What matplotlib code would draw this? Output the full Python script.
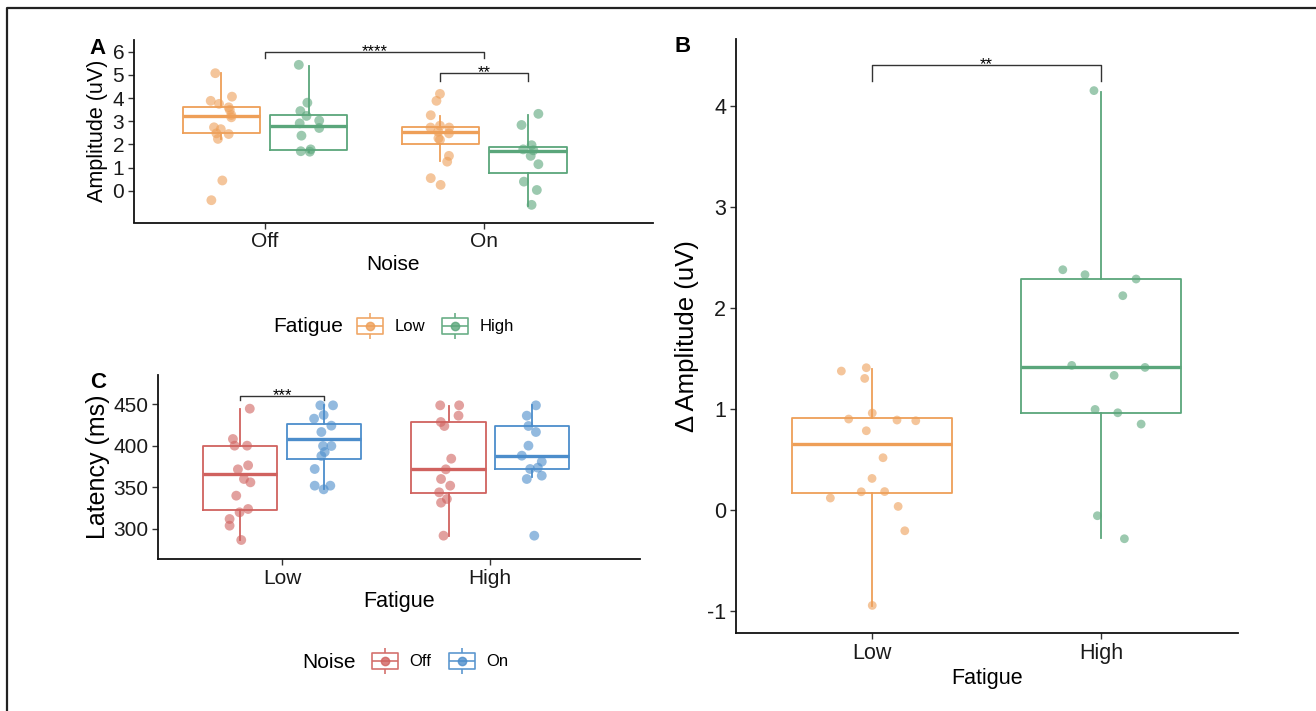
import matplotlib.pyplot as plt
import numpy as np
from matplotlib.path import Path
from matplotlib.lines import Line2D
from matplotlib.legend_handler import HandlerTuple

plt.rcParams['font.family'] = ['Liberation Sans', 'DejaVu Sans']
plt.rcParams['axes.unicode_minus'] = False

ORANGE = '#EE9F58'
GREEN = '#5AA67B'
RED = '#D0625F'
BLUE = '#4C8DCB'

# ---- panel A: amplitude by noise x fatigue ----
noise_labels = ['Off', 'On']
# box stats, order: Off-Low, Off-High, On-Low, On-High
a_q1 = [2.48, 1.77, 2.02, 0.76]
a_med = [3.23, 2.81, 2.53, 1.74]
a_q3 = [3.63, 3.27, 2.74, 1.88]
a_lo = [2.24, 1.69, 1.29, -0.65]
a_hi = [5.07, 5.40, 3.24, 3.27]

a_off_low = [5.07, 3.88, 3.75, 4.06, 3.60, 3.49, 3.27, 3.17, 2.74, 2.66, 2.48, 2.45, 2.24, 0.45, -0.40]
a_off_low_dx = [-0.027, -0.048, -0.010, 0.049, 0.034, 0.039, 0.046, 0.046, -0.033, -0.002, -0.022, 0.034, -0.015, 0.005, -0.045]
a_off_high = [5.43, 3.80, 3.44, 3.23, 3.03, 2.91, 2.71, 2.38, 1.71, 1.69, 1.79]
a_off_high_dx = [-0.046, -0.007, -0.039, -0.011, 0.047, -0.042, 0.047, -0.034, -0.037, 0.004, 0.008]
a_on_low = [4.18, 3.88, 3.26, 2.73, 2.81, 2.73, 2.55, 2.48, 2.27, 2.20, 1.51, 1.26, 0.55, 0.26]
a_on_low_dx = [-0.002, -0.018, -0.044, -0.045, -0.002, 0.040, -0.010, 0.039, -0.009, -0.002, 0.039, 0.031, -0.044, 0.001]
a_on_high = [3.32, 2.84, 1.97, 1.79, 1.75, 1.51, 1.15, 0.40, 0.04, -0.60]
a_on_high_dx = [0.047, -0.030, 0.016, -0.022, 0.024, 0.012, 0.047, -0.019, 0.040, 0.016]

# ---- panel B: delta amplitude by fatigue ----
fatigue_labels = ['Low', 'High']
b_q1 = [0.164, 0.96]
b_med = [0.646, 1.409]
b_q3 = [0.91, 2.284]
b_lo = [-0.948, -0.284]
b_hi = [1.396, 4.14]
b_low = [1.373, 1.406, 1.30, 0.957, 0.898, 0.888, 0.881, 0.782, 0.515, 0.31, 0.178, 0.18, 0.116, 0.033, -0.208, -0.947]
b_low_dx = [-0.134, -0.025, -0.032, 0.001, -0.102, 0.109, 0.191, -0.025, 0.048, 0.0, -0.047, 0.055, -0.182, 0.114, 0.143, 0.001]
b_high = [4.149, 2.376, 2.327, 2.284, 2.119, 1.429, 1.409, 1.33, 0.993, 0.96, 0.848, -0.059, -0.287]
b_high_dx = [-0.031, -0.167, -0.070, 0.153, 0.095, -0.128, 0.192, 0.057, -0.026, 0.073, 0.175, -0.016, 0.102]

# ---- panel C: latency by fatigue x noise ----
# box stats, order: Low-Off, Low-On, High-Off, High-On
c_q1 = [322.4, 383.6, 343.6, 372.0]
c_med = [366.0, 408.0, 372.0, 388.0]
c_q3 = [400.0, 425.6, 428.0, 424.0]
c_lo = [286.8, 347.6, 291.6, 362.0]
c_hi = [443.6, 448.8, 447.6, 448.4]

c_low_off = [444.4, 408.0, 400.0, 400.0, 376.4, 371.6, 360.0, 356.0, 340.0, 324.0, 320.0, 312.0, 304.0, 286.8]
c_low_off_dx = [0.045, -0.036, -0.028, 0.032, 0.037, -0.012, 0.017, 0.048, -0.020, 0.037, -0.004, -0.052, -0.052, 0.004]
c_low_on = [448.4, 448.4, 432.4, 436.8, 424.0, 416.4, 399.6, 399.6, 392.4, 387.6, 372.0, 352.0, 352.0, 347.6]
c_low_on_dx = [-0.016, 0.045, -0.046, 0.0, 0.037, -0.011, 0.037, -0.003, 0.005, -0.011, -0.043, -0.043, 0.032, 0.0]
c_high_off = [448.4, 448.4, 436.0, 428.4, 423.6, 384.4, 371.6, 360.0, 352.0, 344.0, 336.0, 331.6, 292.0]
c_high_off_dx = [-0.040, 0.051, 0.048, -0.037, -0.020, 0.013, -0.013, -0.036, 0.008, -0.045, -0.008, -0.036, -0.024]
c_high_on = [448.4, 436.0, 423.6, 416.4, 400.0, 388.0, 380.8, 373.6, 372.0, 364.0, 360.0, 292.0]
c_high_on_dx = [0.020, -0.024, -0.016, 0.020, -0.016, -0.048, 0.048, 0.029, -0.008, 0.048, -0.024, 0.012]

W, H = 1316, 711
fig = plt.figure(figsize=(W / 100, H / 100), dpi=100)


def box_at(ax, pos, width, q1, med, q3, lo, hi, ys, dx, color, s=50):
    st = dict(q1=q1, med=med, q3=q3, whislo=lo, whishi=hi, fliers=[])
    ax.bxp([st], positions=[pos], widths=width, showcaps=False, showfliers=False,
           manage_ticks=False,
           boxprops=dict(color=color, lw=1.3),
           whiskerprops=dict(color=color, lw=1.3),
           medianprops=dict(color=color, lw=2.4, solid_capstyle='butt'))
    ax.scatter(pos + np.array(dx), ys, s=s, color=color, alpha=0.6,
               edgecolors='none', zorder=3)


def bracket(ax, x1, x2, y, drop, label):
    ax.plot([x1, x1, x2, x2], [y - drop, y, y, y - drop], color='#333333', lw=1.0,
            clip_on=False)
    ax.annotate(label, xy=((x1 + x2) / 2, y), xytext=(0, -3), textcoords='offset points',
                ha='center', va='baseline', fontsize=12, annotation_clip=False)


def style(ax, ls=15):
    for s in ['top', 'right']:
        ax.spines[s].set_visible(False)
    for s in ['left', 'bottom']:
        ax.spines[s].set_linewidth(1.3)
        ax.spines[s].set_color('#111111')
    ax.tick_params(length=4, width=1.0, labelsize=ls, colors='#333333', labelcolor='#1a1a1a',
                   pad=3)


def ax_px(left, top, right, bottom):
    return fig.add_axes([left / W, 1 - bottom / H, (right - left) / W, (bottom - top) / H])


# panel A
axA = ax_px(134, 40, 653, 222.5)
dodge = 0.2
bw = 0.352
groupsA = [(0 - dodge, a_off_low, a_off_low_dx, ORANGE),
           (0 + dodge, a_off_high, a_off_high_dx, GREEN),
           (1 - dodge, a_on_low, a_on_low_dx, ORANGE),
           (1 + dodge, a_on_high, a_on_high_dx, GREEN)]
for i, (p, ys, dx, c) in enumerate(groupsA):
    box_at(axA, p, bw, a_q1[i], a_med[i], a_q3[i], a_lo[i], a_hi[i], ys, dx, c)
bracket(axA, 0, 1, 6.0, 0.28, '****')
bracket(axA, 1 - dodge, 1 + dodge, 5.07, 0.32, '**')
axA.set_xlim(-0.598, 1.77)
axA.set_ylim(-1.36, 6.5)
axA.set_yticks(range(0, 7))
axA.set_xticks([0, 1])
axA.set_xticklabels(noise_labels)
axA.set_xlabel('Noise', fontsize=15, labelpad=3)
axA.set_ylabel('Amplitude (uV)', fontsize=15.5, labelpad=3)
style(axA)

# panel C
axC = ax_px(158, 375, 640, 559)
groupsC = [(0 - dodge, c_low_off, c_low_off_dx, RED),
           (0 + dodge, c_low_on, c_low_on_dx, BLUE),
           (1 - dodge, c_high_off, c_high_off_dx, RED),
           (1 + dodge, c_high_on, c_high_on_dx, BLUE)]
for i, (p, ys, dx, c) in enumerate(groupsC):
    box_at(axC, p, 0.356, c_q1[i], c_med[i], c_q3[i], c_lo[i], c_hi[i], ys, dx, c)
bracket(axC, -dodge, dodge, 460, 5.2, '***')
axC.set_xlim(-0.596, 1.72)
axC.set_ylim(264, 484.8)
axC.set_yticks([300, 350, 400, 450])
axC.set_xticks([0, 1])
axC.set_xticklabels(fatigue_labels)
axC.set_xlabel('Fatigue', fontsize=15.5, labelpad=2)
axC.set_ylabel('Latency (ms)', fontsize=18, labelpad=2)
style(axC)

# panel B
axB = ax_px(736, 39, 1238, 633)
box_at(axB, 0, 0.7, b_q1[0], b_med[0], b_q3[0], b_lo[0], b_hi[0], b_low, b_low_dx, ORANGE, s=40)
box_at(axB, 1, 0.7, b_q1[1], b_med[1], b_q3[1], b_lo[1], b_hi[1], b_high, b_high_dx, GREEN, s=40)
bracket(axB, 0, 1, 4.40, 0.16, '**')
axB.set_xlim(-0.594, 1.598)
axB.set_ylim(-1.22, 4.66)
axB.set_yticks(range(-1, 5))
axB.set_xticks([0, 1])
axB.set_xticklabels(fatigue_labels)
axB.set_xlabel('Fatigue', fontsize=15.5, labelpad=3)
axB.set_ylabel('Δ Amplitude (uV)', fontsize=18.5, labelpad=6)
style(axB, ls=15.5)

# panel letters
fig.text(97 / W, 1 - 48 / H, 'A', fontsize=16, fontweight='bold', ha='center', va='center')
fig.text(683 / W, 1 - 47 / H, 'B', fontsize=16, fontweight='bold', ha='center', va='center')
fig.text(98 / W, 1 - 383 / H, 'C', fontsize=16, fontweight='bold', ha='center', va='center')

# legends with box glyph keys
glyph = Path([(-1, -0.62), (1, -0.62), (1, 0.62), (-1, 0.62), (-1, -0.62),
              (-1, 0), (1, 0), (0, 0.62), (0, 0.96), (0, -0.62), (0, -0.96)],
             [Path.MOVETO, Path.LINETO, Path.LINETO, Path.LINETO, Path.CLOSEPOLY,
              Path.MOVETO, Path.LINETO, Path.MOVETO, Path.LINETO, Path.MOVETO, Path.LINETO])


def key(color):
    g = Line2D([], [], marker=glyph, markersize=19, markerfacecolor='none',
               markeredgecolor=color, markeredgewidth=1.2, linestyle='none', alpha=0.9)
    d = Line2D([], [], marker='o', markersize=6, color=color, alpha=0.8, linestyle='none')
    return (g, d)


fig.text(273 / W, 1 - 327 / H, 'Fatigue', fontsize=15, ha='left', va='center')
fig.legend([key(ORANGE), key(GREEN)], fatigue_labels, loc='center left',
           bbox_to_anchor=(342 / W, 1 - 327 / H), ncol=2, frameon=False, fontsize=12,
           handler_map={tuple: HandlerTuple(ndivide=1, pad=0)},
           handlelength=1.6, handletextpad=0.66, columnspacing=1.0)

fig.text(302 / W, 1 - 662 / H, 'Noise', fontsize=15, ha='left', va='center')
fig.legend([key(RED), key(BLUE)], noise_labels, loc='center left',
           bbox_to_anchor=(357 / W, 1 - 662 / H), ncol=2, frameon=False, fontsize=12,
           handler_map={tuple: HandlerTuple(ndivide=1, pad=0)},
           handlelength=1.6, handletextpad=0.66, columnspacing=1.0)

# outer frame (left and top edges visible)
fig.add_artist(Line2D([7 / W, 7 / W, 1.0], [0.0, 1 - 8 / H, 1 - 8 / H],
                      transform=fig.transFigure, color='#222222', lw=1.6))

fig.savefig('out.png', dpi=100)
